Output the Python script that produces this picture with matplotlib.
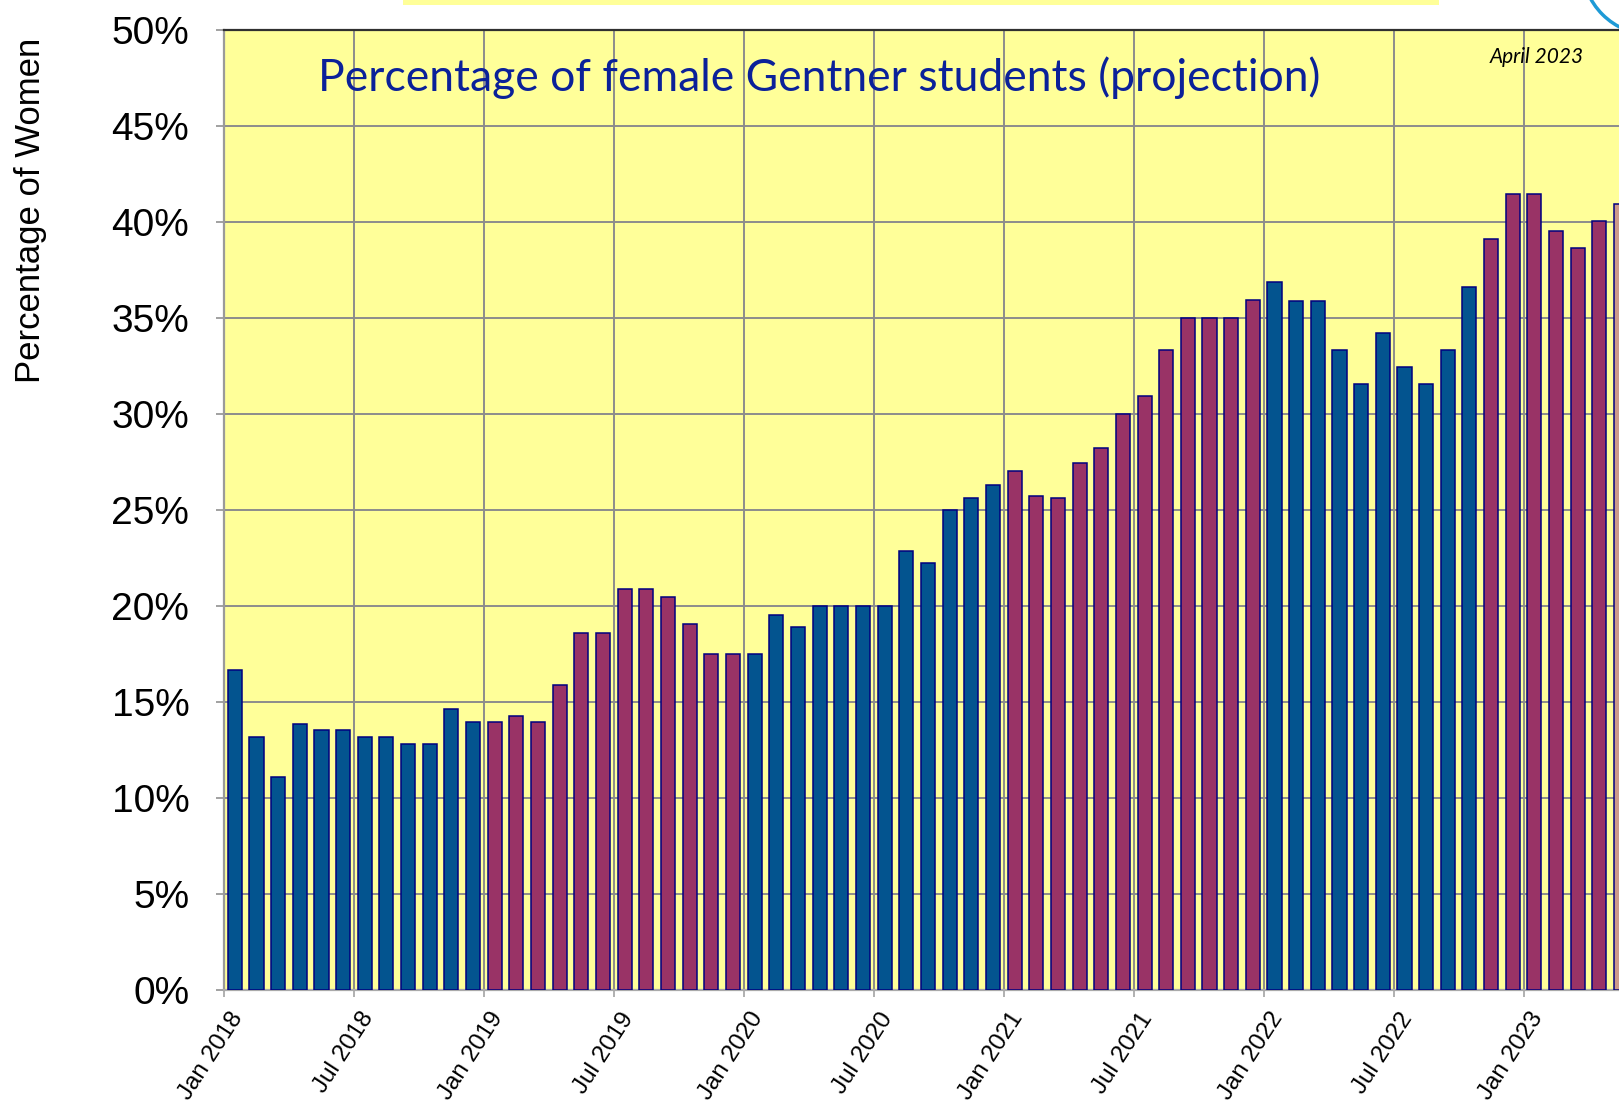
import matplotlib
matplotlib.use("Agg")
import matplotlib.pyplot as plt
from matplotlib.patches import Circle, Rectangle
from matplotlib.transforms import ScaledTranslation

# Anteil Frauen pro Monat, Jan 2018 .. Mai 2023 (in %)
pct_women = [
    16.67, 13.16, 11.11, 13.87, 13.52, 13.52, 13.16, 13.16, 12.81, 12.81, 14.63, 13.94,  # 2018
    13.94, 14.27, 13.94, 15.89, 18.61, 18.61, 20.89, 20.89, 20.47, 19.04, 17.52, 17.52,  # 2019
    17.48, 19.51, 18.92, 20.00, 20.00, 20.00, 20.00, 22.85, 22.22, 25.00, 25.62, 26.32,  # 2020
    27.05, 25.75, 25.64, 27.47, 28.25, 30.00, 30.95, 33.33, 35.00, 35.00, 35.00, 35.94,  # 2021
    36.86, 35.90, 35.90, 33.35, 31.58, 34.22, 32.45, 31.58, 33.35, 36.60, 39.10, 41.47,  # 2022
    41.47, 39.53, 38.65, 40.05, 40.94,                                                  # 2023
]
# Farbgruppe je Balken: b = blau, p = lila, x = heller letzter Balken
bar_group = list(
    "bbbbbbbbbbbb"
    "pppppppppppp"
    "bbbbbbbbbbbb"
    "pppppppppppp"
    "bbbbbbbbbbpp"
    "ppppx"
)
tick_labels = ["Jan 2018", "Jul 2018", "Jan 2019", "Jul 2019", "Jan 2020", "Jul 2020",
               "Jan 2021", "Jul 2021", "Jan 2022", "Jul 2022", "Jan 2023"]
y_ticks = [0, 5, 10, 15, 20, 25, 30, 35, 40, 45, 50]

colour_map = {"b": "#03548F", "p": "#993366", "x": "#CC9A8A"}
sans = ["Liberation Sans", "DejaVu Sans"]

W, H = 1619, 1102
month_px = 21.66
months_on_axis = 66

fig = plt.figure(figsize=(W / 100, H / 100), dpi=100, facecolor="white")
ax = fig.add_axes([224 / W, (H - 990) / H, months_on_axis * month_px / W, 960 / H])
ax.set_facecolor("#FFFF99")

x = [i + 0.5 for i in range(len(pct_women))]
colors = [colour_map[g] for g in bar_group]
ax.bar(x, pct_women, width=0.65, color=colors, edgecolor="#000080", linewidth=1.1, zorder=3)

ax.set_xlim(0, months_on_axis)
ax.set_ylim(0, 50)
ax.set_yticks(y_ticks)
ax.set_yticklabels([f"{v}%" for v in y_ticks], family=sans, fontsize=28)
ax.set_xticks([6 * i for i in range(len(tick_labels))])
ax.set_xticklabels(tick_labels, family=sans, fontsize=17.5)

ax.set_axisbelow(True)
ax.grid(True, color="#8C8C8C", linewidth=1.4)

ax.spines["right"].set_visible(False)
ax.spines["top"].set_color("#303030")
ax.spines["top"].set_linewidth(1.6)
ax.spines["left"].set_color("#9A9A9A")
ax.spines["left"].set_linewidth(1.6)
ax.spines["bottom"].set_color("#AAAAAA")
ax.spines["bottom"].set_linewidth(1.6)

ax.tick_params(axis="y", length=6, width=1.3, color="#9A9A9A", pad=19)
ax.tick_params(axis="x", length=5, width=1.3, color="#AAAAAA", pad=0)

shift = ScaledTranslation(10.5 / 72, -12.5 / 72, fig.dpi_scale_trans)
for lbl in ax.get_xticklabels():
    lbl.set_rotation(57)
    lbl.set_rotation_mode("anchor")
    lbl.set_ha("right")
    lbl.set_va("center")
    lbl.set_transform(lbl.get_transform() + shift)

# Beschriftungen
fig.text(31 / W, 1 - 210 / H, "Percentage of Women", rotation=90, ha="center", va="center",
         fontsize=25, family=sans)
fig.text(318 / W, 1 - 78 / H, "Percentage of female Gentner students (projection)",
         ha="left", va="center", fontsize=32, color="#0B2199", family=["Lato", "DejaVu Sans"])
fig.text(1490 / W, 1 - 57 / H, "April 2023", ha="left", va="center", fontsize=15,
         style="italic", family=["Lato", "DejaVu Sans"])

# Reste der Folie am oberen Rand
fig.add_artist(Rectangle((403 / W, 1 - 5 / H), (1439 - 403) / W, 5 / H, transform=fig.transFigure,
                         facecolor="#FFFF99", edgecolor="none"))
fig.add_artist(Circle((16.52, (H + 35) / 100), 0.70, transform=fig.dpi_scale_trans,
                      fill=False, edgecolor="#1E9AD6", linewidth=2.5, clip_on=False))

fig.savefig("out.png", dpi=100)
